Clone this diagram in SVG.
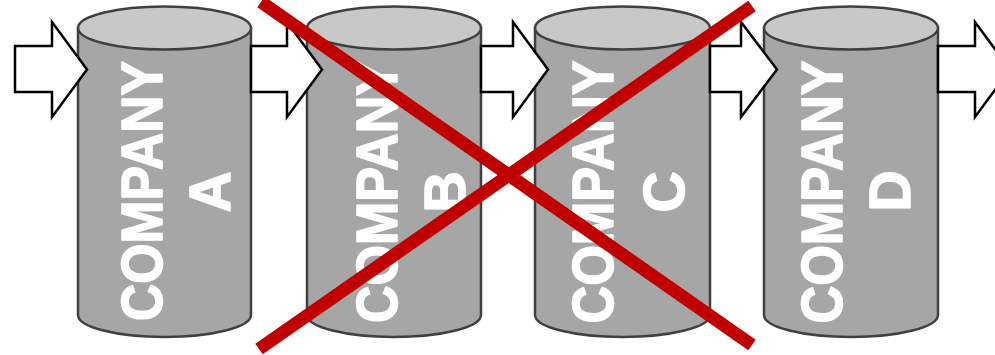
<svg xmlns="http://www.w3.org/2000/svg" width="995" height="355" viewBox="0 0 995 355">
  <defs>
    <style>
      .body { fill: #A6A6A6; stroke: #404040; stroke-width: 2.5; }
      .top { fill: #C8C8C8; stroke: #404040; stroke-width: 2.5; }
      .lbl { fill: #FFFFFF; stroke: #FFFFFF; stroke-width: 1.6; stroke-linejoin: round; font-family: "Liberation Sans", Arial, sans-serif; font-weight: bold; font-size: 57px; text-anchor: middle; }
      .arrow { fill: #FFFFFF; stroke: #000000; stroke-width: 2.5; stroke-linejoin: miter; }
      .cross { stroke: #C00000; stroke-width: 13; stroke-linecap: butt; fill: none; }
    </style>
  </defs>
  <rect x="0" y="0" width="995" height="355" fill="#FFFFFF"/>

  <g id="companyA">
    <path class="body" d="M78,28 L78,315 A86.5,22 0 0 0 251,315 L251,28 Z"/>
    <ellipse class="top" cx="164.5" cy="28" rx="86.5" ry="21.5"/>
    <text class="lbl" transform="translate(161.5,191) rotate(-90)" textLength="260" lengthAdjust="spacingAndGlyphs">COMPANY</text>
    <text class="lbl" transform="translate(229.5,192) rotate(-90)">A</text>
  </g>
  <g id="companyB">
    <path class="body" d="M307,28 L307,315 A87,22 0 0 0 481,315 L481,28 Z"/>
    <ellipse class="top" cx="394" cy="28" rx="87" ry="21.5"/>
    <text class="lbl" transform="translate(396.5,192) rotate(-90)" textLength="262" lengthAdjust="spacingAndGlyphs">COMPANY</text>
    <text class="lbl" transform="translate(464.5,192) rotate(-90)">B</text>
  </g>
  <g id="companyC">
    <path class="body" d="M535,28 L535,315 A87.5,22 0 0 0 710,315 L710,28 Z"/>
    <ellipse class="top" cx="622.5" cy="28" rx="87.5" ry="21.5"/>
    <text class="lbl" transform="translate(612.5,192) rotate(-90)" textLength="263" lengthAdjust="spacingAndGlyphs">COMPANY</text>
    <text class="lbl" transform="translate(683.5,192) rotate(-90)">C</text>
  </g>
  <g id="companyD">
    <path class="body" d="M764,28 L764,315 A87,22 0 0 0 938,315 L938,28 Z"/>
    <ellipse class="top" cx="851" cy="28" rx="87" ry="21.5"/>
    <text class="lbl" transform="translate(841.5,192) rotate(-90)" textLength="263" lengthAdjust="spacingAndGlyphs">COMPANY</text>
    <text class="lbl" transform="translate(909.5,191) rotate(-90)">D</text>
  </g>

  <g id="connectors">
    <polygon class="arrow" points="15,46 52,46 52,22 87,69.5 52,117 52,92 15,92"/>
    <polygon class="arrow" points="251,46 287,46 287,22 322,69.5 287,117 287,92 251,92"/>
    <polygon class="arrow" points="481,46 513,46 513,22 548,69.5 513,117 513,92 481,92"/>
    <polygon class="arrow" points="710,46 741,46 741,22 777,69.5 741,117 741,92 710,92"/>
    <polygon class="arrow" points="938,46 975,46 975,22 1010,69.5 975,117 975,92 938,92"/>
  </g>

  <g id="cross">
    <line class="cross" x1="261" y1="2" x2="752" y2="345"/>
    <line class="cross" x1="259" y1="349" x2="752" y2="6"/>
  </g>
</svg>
